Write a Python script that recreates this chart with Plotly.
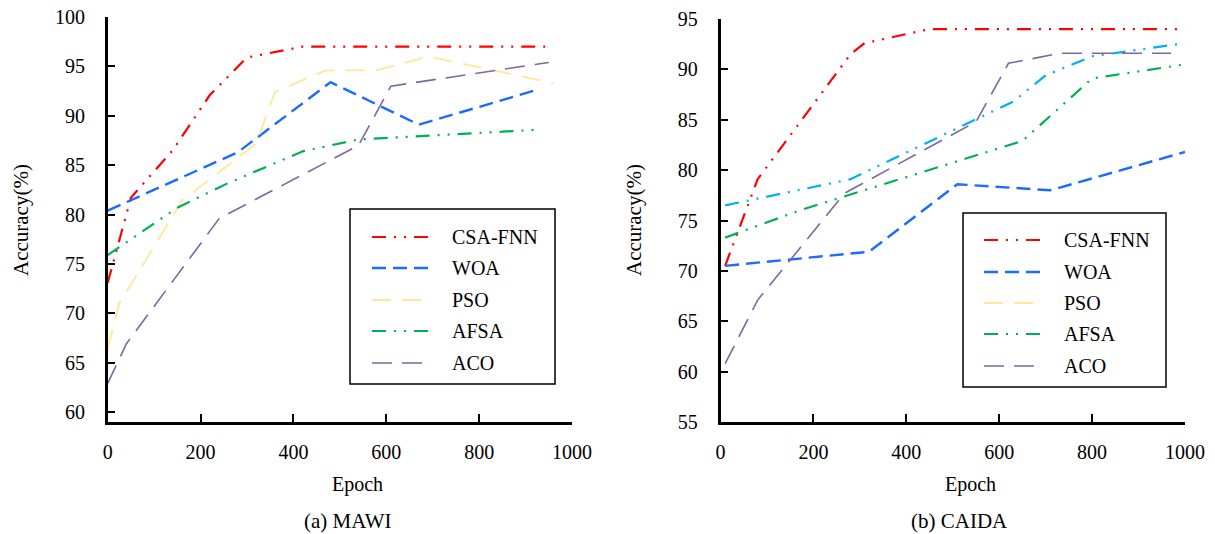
import plotly.graph_objects as go

W, H = 1215, 534
FONT = "Liberation Serif"

# ---------------- data ----------------
epoch_ticks = [0, 200, 400, 600, 800, 1000]
mawi_acc_ticks = [60, 65, 70, 75, 80, 85, 90, 95, 100]
caida_acc_ticks = [55, 60, 65, 70, 75, 80, 85, 90, 95]
series_names = ["CSA-FNN", "WOA", "PSO", "AFSA", "ACO"]

# (a) MAWI
mawi_csa_x = [0, 50, 140, 220, 300, 420, 950]
mawi_csa_y = [73.1, 81.7, 86.5, 92.1, 95.9, 97.0, 97.0]
mawi_woa_x = [0, 280, 480, 670, 930]
mawi_woa_y = [80.4, 86.3, 93.4, 89.1, 92.7]
mawi_pso_x = [0, 25, 160, 320, 360, 470, 580, 690, 960]
mawi_pso_y = [66.5, 71.0, 81.4, 87.2, 92.4, 94.6, 94.6, 96.0, 93.3]
mawi_afsa_x = [0, 150, 260, 420, 540, 930]
mawi_afsa_y = [75.9, 80.7, 83.2, 86.4, 87.6, 88.6]
mawi_aco_x = [0, 40, 240, 540, 610, 950]
mawi_aco_y = [62.9, 66.9, 79.6, 87.0, 93.0, 95.4]

# (b) CAIDA
caida_csa_x = [10, 80, 280, 310, 450, 1000]
caida_csa_y = [70.5, 79.1, 91.5, 92.6, 94.0, 94.0]
caida_woa_x = [10, 320, 510, 710, 1000]
caida_woa_y = [70.5, 71.9, 78.6, 78.0, 81.8]
caida_pso_x = [10, 280, 430, 630, 700, 800, 1000]
caida_pso_y = [76.5, 79.1, 82.4, 86.8, 89.4, 91.3, 92.6]
caida_afsa_x = [10, 170, 650, 800, 1000]
caida_afsa_y = [73.3, 76.0, 82.9, 89.1, 90.5]
caida_aco_x = [10, 80, 267, 550, 620, 730, 970]
caida_aco_y = [60.8, 67.1, 77.7, 84.8, 90.6, 91.6, 91.6]

# ---------------- styles ----------------
DDD = "14px,8px,2px,8px,2px,8px"
styles = {
    "CSA-FNN": dict(color="#FF0000", width=2.2, dash=DDD),
    "WOA": dict(color="#1A6BFF", width=2.4, dash="14px,7px"),
    "PSO": dict(color="#FFE699", width=1.8, dash="19px,11px"),
    "AFSA": dict(color="#00B050", width=2.2, dash=DDD),
    "ACO": dict(color="#8064A2", width=1.6, dash="20px,10px"),
}
caida_pso_line = dict(color="#00B0F0", width=2.2, dash=DDD)

fig = go.Figure()

mawi = [(mawi_csa_x, mawi_csa_y), (mawi_woa_x, mawi_woa_y), (mawi_pso_x, mawi_pso_y),
        (mawi_afsa_x, mawi_afsa_y), (mawi_aco_x, mawi_aco_y)]
caida = [(caida_csa_x, caida_csa_y), (caida_woa_x, caida_woa_y), (caida_pso_x, caida_pso_y),
         (caida_afsa_x, caida_afsa_y), (caida_aco_x, caida_aco_y)]

for name, (xs, ys) in zip(series_names, mawi):
    fig.add_trace(go.Scatter(x=xs, y=ys, mode="lines", name=name, line=styles[name],
                             xaxis="x", yaxis="y", showlegend=False))
for name, (xs, ys) in zip(series_names, caida):
    ln = caida_pso_line if name == "PSO" else styles[name]
    fig.add_trace(go.Scatter(x=xs, y=ys, mode="lines", name=name, line=ln,
                             xaxis="x2", yaxis="y2", showlegend=False))


def px(x):
    return x / W


def py(y):
    return 1 - y / H


axis_common = dict(showline=True, linecolor="black", linewidth=2.5, ticks="inside",
                   ticklen=8, tickwidth=2, tickcolor="black", showgrid=False,
                   zeroline=False, automargin=False,
                   tickfont=dict(family=FONT, size=20, color="black"))

fig.update_layout(
    width=W, height=H, margin=dict(l=0, r=0, t=0, b=0),
    paper_bgcolor="white", plot_bgcolor="white",
    xaxis=dict(domain=[px(107.7), px(572)], range=[0, 1000], tickvals=epoch_ticks,
               anchor="y", ticklabelstandoff=10, **axis_common),
    yaxis=dict(domain=[py(422), py(17)], range=[59, 100], tickvals=mawi_acc_ticks,
               anchor="x", ticklabelstandoff=16, **axis_common),
    xaxis2=dict(domain=[px(720.5), px(1185)], range=[0, 1000], tickvals=epoch_ticks,
                anchor="y2", ticklabelstandoff=10, **axis_common),
    yaxis2=dict(domain=[py(422), py(19)], range=[55, 95], tickvals=caida_acc_ticks,
                anchor="x2", ticklabelstandoff=16, **axis_common),
)

shapes = []
annotations = []


def add_legend(box, entry_ys, sample_x, text_x):
    x0, x1, y0, y1 = box
    shapes.append(dict(type="rect", xref="paper", yref="paper", x0=px(x0), x1=px(x1),
                       y0=py(y1), y1=py(y0), line=dict(color="black", width=1.5),
                       fillcolor="white", layer="above"))
    for name, ey in zip(series_names, entry_ys):
        st = dict(styles[name])
        shapes.append(dict(type="line", xref="paper", yref="paper",
                           x0=px(sample_x[0]), x1=px(sample_x[1]), y0=py(ey), y1=py(ey),
                           line=st, layer="above"))
        annotations.append(dict(xref="paper", yref="paper", x=px(text_x), y=py(ey),
                                text=name, showarrow=False, xanchor="left", yanchor="middle",
                                font=dict(family=FONT, size=20, color="black")))


add_legend((350, 555, 209, 384), [237, 268, 300, 331, 363], (372, 430), 450)
add_legend((963, 1166, 213, 387), [240, 272, 303, 334, 366], (984, 1042), 1062)


def text(x, y, s, size=20, angle=0):
    annotations.append(dict(xref="paper", yref="paper", x=px(x), y=py(y), text=s,
                            showarrow=False, xanchor="center", yanchor="middle",
                            textangle=angle, font=dict(family=FONT, size=size, color="black")))


text(357, 484, "Epoch")
text(970, 484, "Epoch")
text(348, 521, "(a) MAWI", size=21)
text(959, 521, "(b) CAIDA", size=21)
text(21, 220, "Accuracy(%)", size=21, angle=-90)
text(634, 220, "Accuracy(%)", size=21, angle=-90)

fig.update_layout(shapes=shapes, annotations=annotations)
fig.write_html("out.html", config={"displayModeBar": False},
               post_script="document.body.style.margin='0';document.body.style.overflow='hidden';")
